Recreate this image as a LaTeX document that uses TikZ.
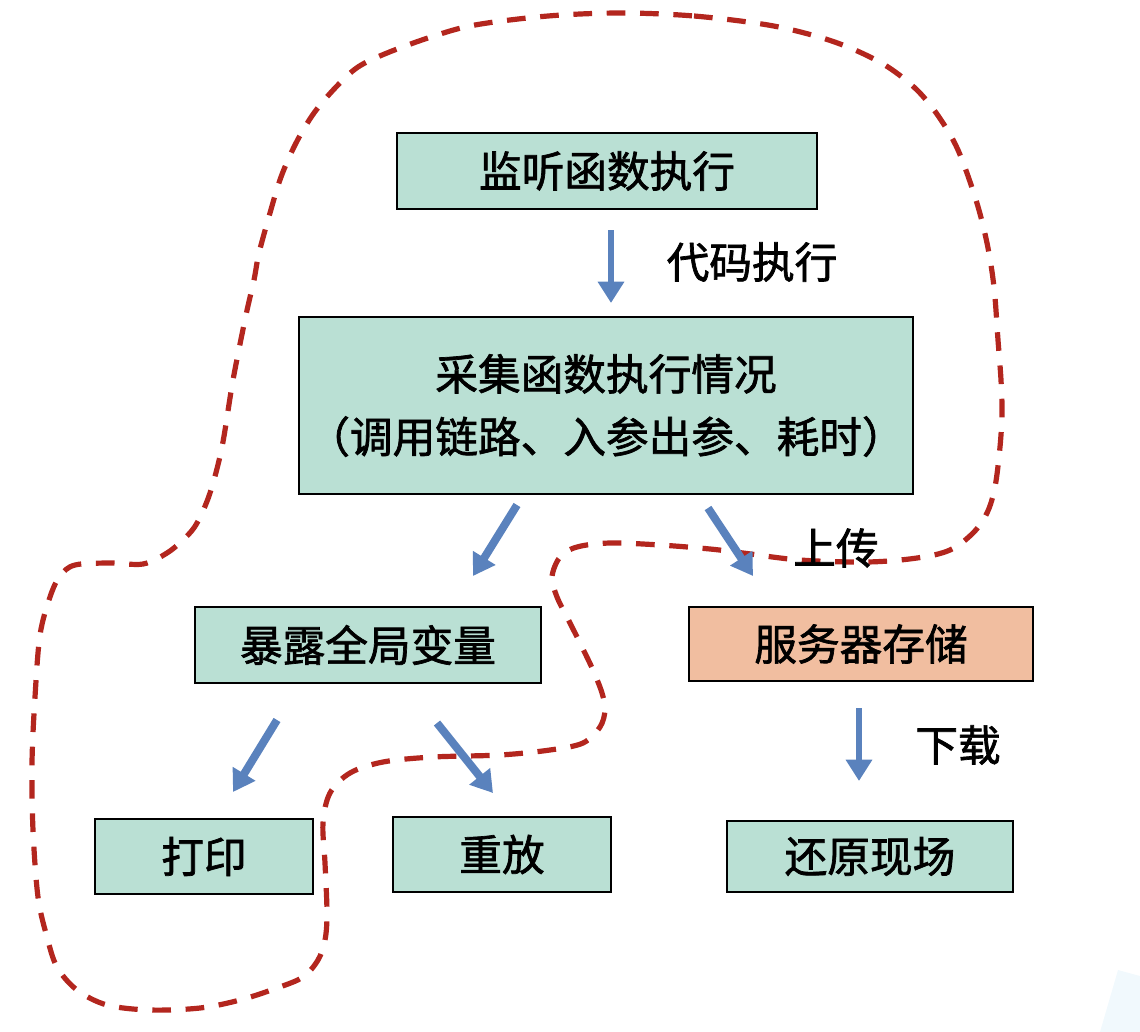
\documentclass[tikz,border=0pt]{standalone}
\usepackage{fontspec}
\setmainfont{Noto Sans CJK SC}[FakeBold=1.6]
\usetikzlibrary{arrows.meta}
\definecolor{boxgreen}{HTML}{BAE0D4}
\definecolor{boxsalmon}{HTML}{F1BEA0}
\definecolor{loopred}{HTML}{B3261E}
\definecolor{arrowblue}{HTML}{5A82BD}
\definecolor{wmark}{HTML}{F1F9FD}
\tikzset{
  box/.style={draw=black, line width=1.5pt, fill=boxgreen, inner sep=0pt, font=\fontsize{32}{47}\selectfont},
  lbl/.style={inner sep=0pt, font=\fontsize{32}{40}\selectfont},
  bluearrow/.style={draw=arrowblue, line width=6pt, -{Triangle[width=19pt,length=16pt]}},
  loopline/.style={draw=loopred, line width=3.9pt, dash pattern=on 14pt off 11pt}
}
\begin{document}
\begin{tikzpicture}[x=0.75pt,y=-0.75pt]
\useasboundingbox (0,0) rectangle (1140,1032);
% faint watermark
\fill[wmark] (852,1032) arc[start angle=180,end angle=0,x radius=103,y radius=76] -- (1015,1032) arc[start angle=0,end angle=180,x radius=63,y radius=35] -- cycle;
\fill[wmark] (1118,970) -- (1140,976) -- (1140,1032) -- (1100,1032) -- cycle;

% dashed loop
\draw[loopline] plot[smooth cycle, tension=0.55] coordinates {
(621,13) (694,16) (768,25) (819,37) (855,50) (888,67) (917,90) (939,117) (958,150)
(976,200) (987,243) (994,287) (998,340) (1001,380) (1002,413) (1000,447) (995,487)
(987,513) (973,533) (950,550) (917,558) (867,562) (800,560) (743,553) (710,549)
(660,545) (610,543) (577,547) (560,557) (552,577) (557,597) (567,617) (580,643)
(593,670) (602,693) (605,710) (600,727) (583,743) (550,750) (500,755) (433,757)
(383,762) (350,773) (330,793) (323,823) (325,863) (327,913) (325,940) (318,960)
(303,977) (277,988) (240,1000) (200,1008) (150,1010) (107,1005) (77,990) (57,967)
(47,937) (38,897) (33,830) (32,763) (35,697) (40,635) (50,597) (60,576) (75,565)
(110,563) (143,564) (167,553) (185,538) (197,523) (210,493) (222,447) (233,380)
(246,315) (254,280) (259,253) (270,213) (281,177) (296,143) (314,113) (336,87)
(358,67) (387,53) (431,37) (475,25) (548,16)};

% boxes
\node[box, minimum width=315pt, minimum height=57pt] (listen) at (607,171) {监听函数执行};
\node[box, minimum width=460.5pt, minimum height=132.75pt, align=center] (collect) at (606,405.5) {采集函数执行情况\\（调用链路、入参出参、耗时）};
\node[box, minimum width=259.5pt, minimum height=57pt] (expose) at (368,645) {暴露全局变量};
\node[box, fill=boxsalmon, minimum width=258pt, minimum height=55.5pt] (server) at (861,644) {服务器存储};
\node[box, minimum width=163.5pt, minimum height=56.25pt] (print) at (204,856.5) {打印};
\node[box, minimum width=163.5pt, minimum height=56.25pt] (replay) at (502,854.5) {重放};
\node[box, minimum width=214.5pt, minimum height=53.25pt] (restore) at (870,856.5) {还原现场};

% labels
\node[lbl] (lcode) at (752,262) {代码执行};
\node[lbl] (lup) at (836,548) {上传};
\node[lbl] (ldown) at (958,745) {下载};

% arrow ends
\coordinate (a1s) at (611,230); \coordinate (a1e) at (611,303);
\coordinate (a2s) at (517,505); \coordinate (a2e) at (473,576);
\coordinate (a3s) at (708,508); \coordinate (a3e) at (753,576);
\coordinate (a4s) at (277,720); \coordinate (a4e) at (233,792);
\coordinate (a5s) at (437,723); \coordinate (a5e) at (493,793);
\coordinate (a6s) at (859,708); \coordinate (a6e) at (859,781);

\draw[bluearrow, line width=4.5pt] (a1s) -- (a1e);
\draw[bluearrow] (a2s) -- (a2e);
\draw[bluearrow] (a3s) -- (a3e);
\draw[bluearrow] (a4s) -- (a4e);
\draw[bluearrow] (a5s) -- (a5e);
\draw[bluearrow, line width=4.5pt] (a6s) -- (a6e);
\end{tikzpicture}
\end{document}
